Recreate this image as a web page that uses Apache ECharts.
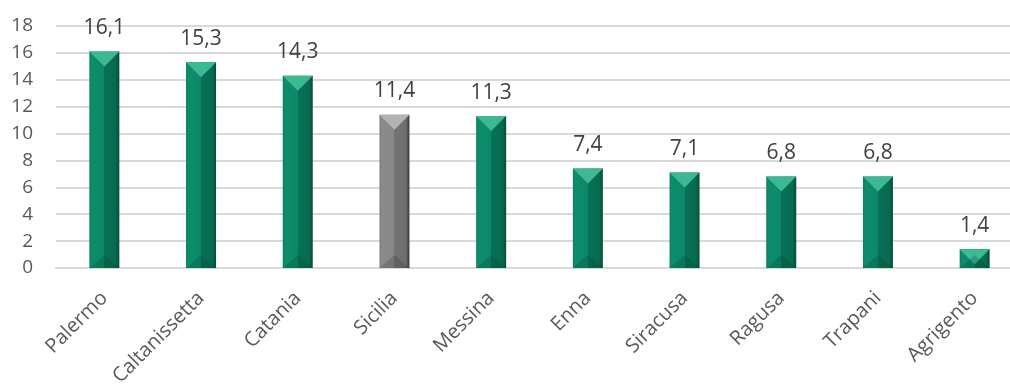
<!DOCTYPE html>
<html><head><meta charset="utf-8">
<script src="https://cdn.jsdelivr.net/npm/echarts@6/dist/echarts.min.js"></script>
<style>html,body{margin:0;padding:0;background:#fff}#c{width:1010px;height:385px}</style>
</head><body><div id="c"></div>
<script>
const categories = ['Palermo','Caltanissetta','Catania','Sicilia','Messina','Enna','Siracusa','Ragusa','Trapani','Agrigento'];
const values = [16.1,15.3,14.3,11.4,11.3,7.4,7.1,6.8,6.8,1.4];
const highlight = 'Sicilia';
const yTicks = {min:0, max:18, interval:2};

const green = {face: new echarts.graphic.LinearGradient(0,0,1,0,[
  {offset:0,color:'#0a7f61'},{offset:0.08,color:'#0d8d6b'},{offset:0.5,color:'#0c8868'},
  {offset:0.5,color:'#087256'},{offset:0.88,color:'#076a50'},{offset:1,color:'#034d39'}]),
  top:'#3cb892', bottom:'rgba(0,60,40,0.22)'};
const gray = {face: new echarts.graphic.LinearGradient(0,0,1,0,[
  {offset:0,color:'#7e7e7e'},{offset:0.08,color:'#8a8a8a'},{offset:0.5,color:'#888888'},
  {offset:0.5,color:'#747474'},{offset:0.88,color:'#6e6e6e'},{offset:1,color:'#3a3a3a'}]),
  top:'#b3b3b3', bottom:'rgba(0,0,0,0.15)'};
const pal = c => c === highlight ? gray : green;

const chart = echarts.init(document.getElementById('c'));
const font = 'Open Sans';
chart.setOption({
  animation:false,
  grid:{left:56, width:967, top:26, bottom:117, outerBoundsMode:'none', containLabel:false},
  xAxis:{type:'category', data:categories,
    axisLine:{lineStyle:{color:'#d9d9d9', width:2}}, axisTick:{show:false},
    axisLabel:{rotate:45, margin:27, color:'#595959', fontSize:20, fontFamily:font, interval:0}},
  yAxis:{type:'value', min:yTicks.min, max:yTicks.max, interval:yTicks.interval,
    axisLine:{show:false}, axisTick:{show:false},
    splitLine:{lineStyle:{color:'#d9d9d9', width:2}},
    axisLabel:{margin:23, color:'#595959', fontSize:19, fontFamily:font}},
  series:[
    {type:'bar', barWidth:30,
      data: values.map((v,i)=>({value:v, itemStyle:{color:pal(categories[i]).face}})),
      label:{show:true, position:'top', distance:13, color:'#404040', fontSize:21, fontFamily:font,
        formatter:p=>p.value.toFixed(1).replace('.',',')}},
    {type:'pictorialBar', symbol:'path://M0,0 L30,0 L15,14 Z', symbolSize:[30,15],
      symbolPosition:'end', z:3, silent:true,
      data: values.map((v,i)=>({value:v, itemStyle:{color:pal(categories[i]).top}}))},
    {type:'pictorialBar', symbol:'path://M0,14 L30,14 L15,0 Z', symbolSize:[30,13],
      symbolPosition:'start', z:3, silent:true,
      data: values.map((v,i)=>({value:v, itemStyle:{color:pal(categories[i]).bottom}}))}
  ]
});
</script></body></html>
